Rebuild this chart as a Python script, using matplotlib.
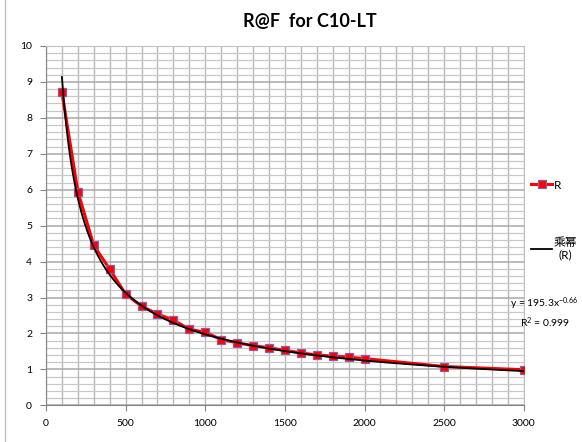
import matplotlib.pyplot as plt
import numpy as np
from matplotlib.lines import Line2D
from matplotlib.ticker import MultipleLocator

plt.rcParams['font.family'] = ['Lato', 'Noto Sans CJK SC', 'DejaVu Sans']
plt.rcParams['mathtext.default'] = 'regular'

# data
freq = [100, 200, 300, 400, 500, 600, 700, 800, 900, 1000, 1100, 1200,
        1300, 1400, 1500, 1600, 1700, 1800, 1900, 2000, 2500, 3000]
r_vals = [8.72, 5.95, 4.45, 3.79, 3.09, 2.76, 2.54, 2.37, 2.12, 2.03, 1.83, 1.74,
          1.66, 1.60, 1.53, 1.46, 1.40, 1.37, 1.34, 1.30, 1.08, 0.99]

# power trendline shown in the chart
coef_a = 195.3
coef_b = -0.665

fig = plt.figure(figsize=(5.82, 4.42), dpi=100)
ax = fig.add_axes([0.079, 0.083, 0.821, 0.813])

ax.plot(freq, r_vals, color='#ff0000', lw=2.2, marker='s', ms=6,
        mfc='#ff0000', mec='#8a5fa8', mew=0.9, label='R', zorder=3)

xt = np.linspace(min(freq), max(freq), 300)
ax.plot(xt, coef_a * xt ** coef_b, color='black', lw=1.3, label='乘幂\n(R)', zorder=4)

ax.set_xlim(0, 3000)
ax.set_ylim(0, 10)
ax.xaxis.set_major_locator(MultipleLocator(500))
ax.xaxis.set_minor_locator(MultipleLocator(100))
ax.yaxis.set_major_locator(MultipleLocator(1))
ax.yaxis.set_minor_locator(MultipleLocator(0.2))

ax.grid(which='both', axis='x', color='#b8b8b8', lw=1.0)
ax.grid(which='major', axis='y', color='#a8a8a8', lw=1.1)
ax.grid(which='minor', axis='y', color='#c8c8c8', lw=0.9)
ax.set_axisbelow(True)

ax.tick_params(which='major', direction='out', length=4, color='#868686',
               labelsize=7.5)
ax.tick_params(which='minor', length=0)
ax.tick_params(axis='y', pad=6)
ax.tick_params(axis='x', pad=6)
for s in ['top', 'right']:
    ax.spines[s].set_color('#c0c0c0')
for s in ['left', 'bottom']:
    ax.spines[s].set_color('#868686')

ax.set_title('R@F  for C10-LT', fontsize=13, fontweight='bold', pad=14, x=0.552)

leg = ax.legend(loc='upper left', bbox_to_anchor=(1.0, 0.648), frameon=False,
                fontsize=8.5, handlelength=1.8, labelspacing=3.9, handletextpad=0.15,
                borderaxespad=0.2)
leg.get_texts()[1].set_multialignment('center')

ax.text(1.044, 0.305, 'y = 195.3x$^{-0.66}$\nR$^2$ = 0.999', transform=ax.transAxes,
        fontsize=7.5, ha='center', va='top', multialignment='center',
        linespacing=1.25)

fig.add_artist(Line2D([0.008, 0.008], [0.0, 1.0], color='#c0c0c0', lw=1))

fig.savefig('out.png', dpi=100)
